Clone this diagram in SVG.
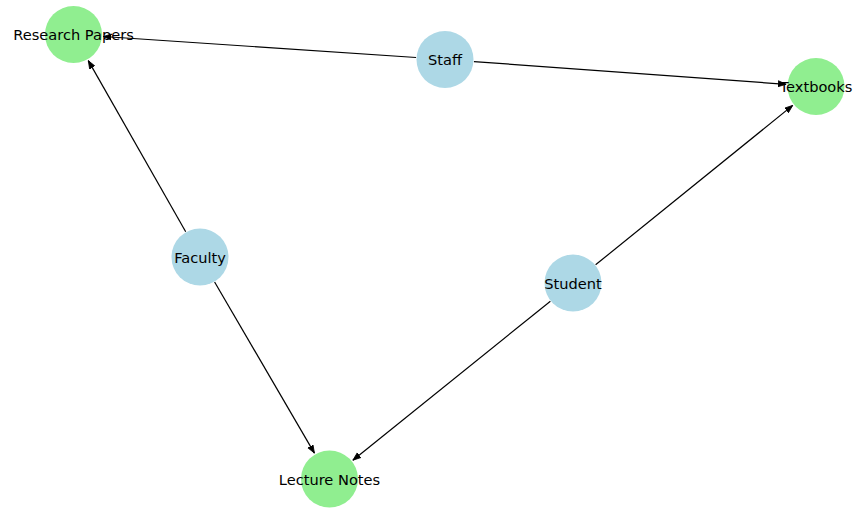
<svg xmlns="http://www.w3.org/2000/svg" width="854" height="508" viewBox="0 0 854 508">
<style>
.edge{stroke:#000;stroke-width:1.2;fill:none;marker-end:url(#ah)}
.src{fill:#ADD8E6}
.dst{fill:#90EE90}
text{font-family:"DejaVu Sans",sans-serif;font-size:14.6px;fill:#000;text-anchor:middle;dominant-baseline:central}
</style>
<defs>
<marker id="ah" markerUnits="userSpaceOnUse" markerWidth="10" markerHeight="8" refX="8" refY="3.5" orient="auto">
<path d="M0,0.5 L8,3.5 L0,6.5 z" fill="#000" stroke="#000" stroke-width="0.8"/>
</marker>
</defs>
<rect width="854" height="508" fill="#fff"/>
<g id="edges">
<line class="edge" x1="416.1" y1="57.5" x2="103.4" y2="36.5"/>
<line class="edge" x1="473.9" y1="61.6" x2="786.1" y2="84.3"/>
<line class="edge" x1="185.7" y1="231.8" x2="88.3" y2="60.6"/>
<line class="edge" x1="214.6" y1="282" x2="314.4" y2="453.1"/>
<line class="edge" x1="595.6" y1="264.8" x2="792.7" y2="105.4"/>
<line class="edge" x1="550.4" y1="301.2" x2="352.9" y2="460.2"/>
</g>
<g id="staff"><circle class="src" cx="445" cy="59.5" r="28.5"/><text x="445" y="59.5">Staff</text></g>
<g id="faculty"><circle class="src" cx="200" cy="257" r="28.5"/><text x="200" y="257">Faculty</text></g>
<g id="student"><circle class="src" cx="573" cy="283" r="28.5"/><text x="573" y="283">Student</text></g>
<g id="research-papers"><circle class="dst" cx="73.5" cy="34.5" r="28.5"/><text x="73.5" y="34.5">Research Papers</text></g>
<g id="textbooks"><circle class="dst" cx="816" cy="86.5" r="28.5"/><text x="816" y="86.5">Textbooks</text></g>
<g id="lecture-notes"><circle class="dst" cx="329.5" cy="479" r="28.5"/><text x="329.5" y="479">Lecture Notes</text></g>
</svg>
